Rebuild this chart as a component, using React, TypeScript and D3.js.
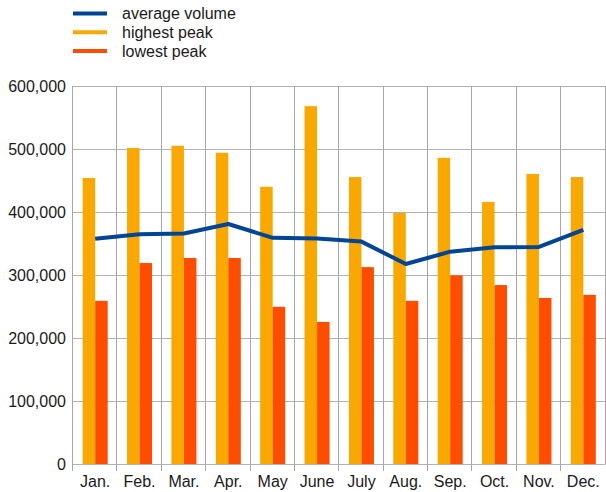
import { useEffect, useRef } from 'react';
import * as d3 from 'd3';

const months = ['Jan.', 'Feb.', 'Mar.', 'Apr.', 'May', 'June', 'July', 'Aug.', 'Sep.', 'Oct.', 'Nov.', 'Dec.'];
const averageVolume = [357500, 364500, 366000, 381000, 359000, 358000, 353000, 317500, 337000, 344000, 344500, 371500];
const highestPeak = [454000, 501500, 505000, 494000, 440000, 568000, 455500, 398500, 486000, 416000, 460500, 455500];
const lowestPeak = [259000, 319000, 327000, 327000, 249500, 225500, 312500, 259000, 299500, 284000, 263500, 268500];
const yTicks = [0, 100000, 200000, 300000, 400000, 500000, 600000];

const seriesNames = ['average volume', 'highest peak', 'lowest peak'];
const colors = ['#004594', '#f8a800', '#ff4d00'];

export default function App() {
    const svgRef = useRef<SVGSVGElement>(null);
    const width = 606;
    const height = 492;
    const margin = { top: 86, right: 0.5, bottom: 28, left: 73 };

    useEffect(() => {
        if (!svgRef.current) return;
        const svg = d3.select(svgRef.current);
        svg.selectAll('*').remove();

        const font = '"Liberation Sans", Arial, sans-serif';
        const x = d3.scaleBand<string>()
            .domain(months)
            .range([margin.left, width - margin.right])
            .padding(0);
        const y = d3.scaleLinear()
            .domain([0, 600000])
            .range([height - margin.bottom, margin.top]);

        const bw = x.bandwidth();
        const barW = bw * 0.282;
        const fmt = d3.format(',');

        // horizontal grid
        svg.append('g')
            .selectAll('line')
            .data(yTicks)
            .enter()
            .append('line')
            .attr('x1', margin.left)
            .attr('x2', width - margin.right)
            .attr('y1', d => Math.round(y(d)) + 0.5)
            .attr('y2', d => Math.round(y(d)) + 0.5)
            .attr('stroke', '#b3b3b3')
            .attr('stroke-width', 1);

        // vertical grid (category boundaries), extending below the axis as ticks
        const bounds = months.map(m => x(m) as number).concat([width - margin.right]);
        svg.append('g')
            .selectAll('line')
            .data(bounds)
            .enter()
            .append('line')
            .attr('x1', d => Math.round(d) - 0.5)
            .attr('x2', d => Math.round(d) - 0.5)
            .attr('y1', margin.top)
            .attr('y2', (d, i) => (i === bounds.length - 1 ? y(0) : y(0) + 7))
            .attr('stroke', '#a6a6a6')
            .attr('stroke-width', 1);

        // y tick labels
        svg.append('g')
            .selectAll('text')
            .data(yTicks)
            .enter()
            .append('text')
            .attr('x', 66)
            .attr('y', d => y(d))
            .attr('dy', '0.36em')
            .attr('text-anchor', 'end')
            .attr('font-family', font)
            .attr('font-size', '16px')
            .attr('fill', '#1a1a1a')
            .text(d => fmt(d));

        // month labels
        svg.append('g')
            .selectAll('text')
            .data(months)
            .enter()
            .append('text')
            .attr('x', d => (x(d) as number) + bw / 2)
            .attr('y', 487)
            .attr('text-anchor', 'middle')
            .attr('font-family', font)
            .attr('font-size', '16px')
            .attr('fill', '#1a1a1a')
            .text(d => d);

        // bars
        svg.append('g')
            .selectAll('rect')
            .data(highestPeak)
            .enter()
            .append('rect')
            .attr('x', (d, i) => (x(months[i]) as number) + bw / 2 - barW)
            .attr('y', d => y(d))
            .attr('width', barW)
            .attr('height', d => y(0) - y(d))
            .attr('fill', colors[1]);

        svg.append('g')
            .selectAll('rect')
            .data(lowestPeak)
            .enter()
            .append('rect')
            .attr('x', (d, i) => (x(months[i]) as number) + bw / 2)
            .attr('y', d => y(d))
            .attr('width', barW)
            .attr('height', d => y(0) - y(d))
            .attr('fill', colors[2]);

        // average line
        const line = d3.line<number>()
            .x((d, i) => (x(months[i]) as number) + bw / 2)
            .y(d => y(d));
        svg.append('path')
            .datum(averageVolume)
            .attr('d', line)
            .attr('fill', 'none')
            .attr('stroke', colors[0])
            .attr('stroke-width', 4)
            .attr('stroke-linejoin', 'round');

        // legend
        const legend = svg.append('g');
        seriesNames.forEach((name, i) => {
            const ly = 13.5 + i * 18.8;
            legend.append('line')
                .attr('x1', 73)
                .attr('x2', 107)
                .attr('y1', ly)
                .attr('y2', ly)
                .attr('stroke', colors[i])
                .attr('stroke-width', 4);
            legend.append('text')
                .attr('x', 122)
                .attr('y', ly)
                .attr('dy', '0.36em')
                .attr('font-family', font)
                .attr('font-size', '16px')
                .attr('fill', '#1a1a1a')
                .text(name);
        });
    }, []);

    return (
        <svg
            ref={svgRef}
            width={width}
            height={height}
            style={{ position: 'absolute', left: 0, top: 0, background: '#fff', display: 'block' }}
        />
    );
}
